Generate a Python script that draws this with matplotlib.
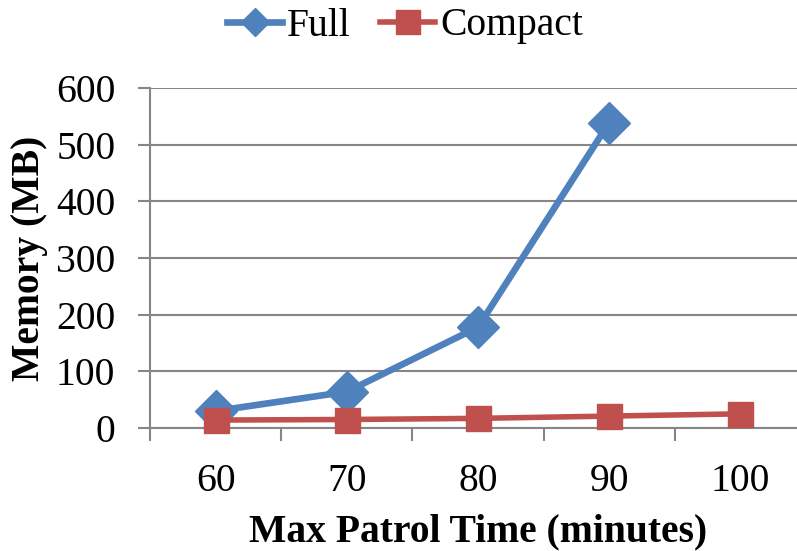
import matplotlib
matplotlib.use("Agg")
import matplotlib.pyplot as plt
from matplotlib.lines import Line2D

categories = ["60", "70", "80", "90", "100"]
full_vals = [30, 64, 178, 539, None]
compact_vals = [14, 15, 17, 21, 25]
yticks = [0, 100, 200, 300, 400, 500, 600]

plt.rcParams['font.family'] = ['Liberation Serif', 'DejaVu Serif']

W, H = 797, 551
fig = plt.figure(figsize=(W/100, H/100), dpi=100)
ax = fig.add_axes([150/W, (H-428)/H, 656/W, 340/H])

blue = '#4F81BD'
red = '#C0504D'
grid = '#868686'
FS = 28.5

xs = list(range(len(categories)))
fx = [x for x, v in zip(xs, full_vals) if v is not None]
fy = [v for v in full_vals if v is not None]
ax.plot(fx, fy, color=blue, lw=4.8, marker='D', ms=21, mfc=blue, mec=blue,
        solid_capstyle='round', zorder=3, clip_on=False)
ax.plot(xs, compact_vals, color=red, lw=4.0, marker='s', ms=18, mfc=red, mec=red,
        zorder=4, clip_on=False)

ax.set_xlim(-0.5, len(categories)-0.5)
ax.set_ylim(0, 600)
ax.set_yticks(yticks)
ax.set_xticks(xs)
ax.set_xticklabels(categories)
ax.set_xticks([x-0.5 for x in range(len(categories)+1)], minor=True)
ax.tick_params(axis='x', which='major', length=0, pad=25, labelsize=FS)
ax.tick_params(axis='x', which='minor', length=9, width=1.5, color=grid, direction='out')
ax.tick_params(axis='y', which='major', length=9, width=1.5, color=grid, labelsize=FS, pad=16)
ax.yaxis.grid(True, color=grid, lw=1.5)
ax.set_axisbelow(True)
for s in ['top', 'right']:
    ax.spines[s].set_visible(False)
for s in ['left', 'bottom']:
    ax.spines[s].set_color(grid)
    ax.spines[s].set_linewidth(1.5)

ax.set_xlabel('Max Patrol Time (minutes)', fontsize=FS, fontweight='bold', labelpad=10)
ax.set_ylabel('Memory (MB)', fontsize=FS, fontweight='bold', labelpad=6)

handles = [Line2D([], [], color=blue, lw=4.8, marker='D', ms=14),
           Line2D([], [], color=red, lw=4.0, marker='s', ms=17)]
fig.legend(handles, ['Full', 'Compact'], loc='center', bbox_to_anchor=(405/W, 1-26/H),
           ncol=2, frameon=False, fontsize=FS, handlelength=1.39, handletextpad=0.12,
           columnspacing=0.75)

fig.savefig('out.png', dpi=100)
